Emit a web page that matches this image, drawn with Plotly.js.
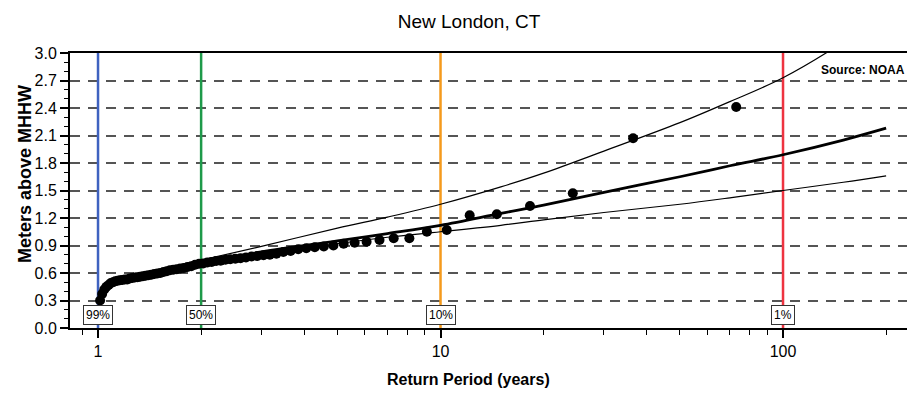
<!DOCTYPE html>
<html>
<head>
<meta charset="utf-8">
<script src="https://cdn.plot.ly/plotly-3.0.1.min.js"></script>
<style>html,body{margin:0;padding:0;background:#fff;}#chart{width:909px;height:396px;}</style>
</head>
<body>
<div id="chart"></div>
<script>
// Observed annual maxima: return period (years) and level (m above MHHW)
const obsPeriod = [73.000, 36.500, 24.333, 18.250, 14.600, 12.167, 10.429, 9.125, 8.111, 7.300,
  6.636, 6.083, 5.615, 5.214, 4.867, 4.563, 4.294, 4.056, 3.842, 3.650,
  3.476, 3.318, 3.174, 3.042, 2.920, 2.808, 2.704, 2.607, 2.517, 2.433,
  2.355, 2.281, 2.212, 2.147, 2.086, 2.028, 1.973, 1.921, 1.872, 1.825,
  1.780, 1.738, 1.698, 1.659, 1.622, 1.587, 1.553, 1.521, 1.490, 1.460,
  1.431, 1.404, 1.377, 1.352, 1.327, 1.304, 1.281, 1.259, 1.237, 1.217,
  1.197, 1.177, 1.159, 1.141, 1.123, 1.106, 1.090, 1.074, 1.058, 1.043,
  1.028, 1.014];
const obsLevel = [2.41, 2.07, 1.47, 1.33, 1.24, 1.23, 1.07, 1.05, 0.98, 0.98,
  0.96, 0.94, 0.93, 0.92, 0.90, 0.89, 0.88, 0.87, 0.86, 0.84,
  0.83, 0.81, 0.80, 0.795, 0.785, 0.78, 0.77, 0.76, 0.755, 0.75,
  0.745, 0.735, 0.73, 0.72, 0.715, 0.705, 0.70, 0.69, 0.675, 0.665,
  0.655, 0.65, 0.64, 0.635, 0.63, 0.62, 0.61, 0.60, 0.595, 0.59,
  0.58, 0.575, 0.57, 0.565, 0.56, 0.555, 0.55, 0.545, 0.54, 0.53,
  0.53, 0.525, 0.52, 0.515, 0.51, 0.50, 0.49, 0.47, 0.45, 0.42,
  0.37, 0.30];

// Fitted curve and confidence bounds
const fitPeriod = [1.5, 2, 3, 5, 7, 10, 15, 20, 30, 50, 70, 100, 150, 200];
const fitLevel  = [0.62, 0.71, 0.83, 0.95, 1.03, 1.12, 1.25, 1.34, 1.48, 1.65, 1.77, 1.89, 2.05, 2.18];
const upperLevel = [0.63, 0.74, 0.89, 1.09, 1.21, 1.35, 1.54, 1.69, 1.93, 2.24, 2.47, 2.73, 3.12, 3.45];
const lowerLevel = [0.61, 0.70, 0.80, 0.92, 0.99, 1.05, 1.12, 1.18, 1.26, 1.35, 1.42, 1.50, 1.59, 1.66];

// Reference return-period lines
const refPeriod = [1, 2, 10, 100];
const refLabel = ['99%', '50%', '10%', '1%'];
const refColor = ['#3f62c0', '#1e9a4a', '#f59a1c', '#ee3340'];

// Axis ticks
const yTickVals = [0, 0.3, 0.6, 0.9, 1.2, 1.5, 1.8, 2.1, 2.4, 2.7, 3.0];
const xTickVals = [1, 10, 100];
const xTickText = ['1', '10', '100'];
const xMinorVals = [0.9, 2, 3, 4, 5, 6, 7, 8, 9, 20, 30, 40, 50, 60, 70, 80, 90, 200];

const narrow = 'Liberation Sans Narrow, Arial Narrow, Liberation Sans, Arial, sans-serif';
const wide = 'Liberation Sans, Arial, sans-serif';

const traces = [];
refPeriod.forEach((p, i) => {
  traces.push({x: [p, p], y: [0, 3], mode: 'lines', line: {color: refColor[i], width: 2.5},
    hoverinfo: 'skip', showlegend: false});
});
traces.push({x: fitPeriod, y: upperLevel, mode: 'lines', line: {color: '#000', width: 1.2, shape: 'spline'}, showlegend: false});
traces.push({x: fitPeriod, y: lowerLevel, mode: 'lines', line: {color: '#000', width: 1.2, shape: 'spline'}, showlegend: false});
traces.push({x: fitPeriod, y: fitLevel, mode: 'lines', line: {color: '#000', width: 2.8, shape: 'spline'}, showlegend: false});
traces.push({x: obsPeriod, y: obsLevel, mode: 'markers', marker: {color: '#000', size: 10}, showlegend: false});

const annotations = refPeriod.map((p, i) => ({
  x: Math.log10(p), y: 0.142, xref: 'x', yref: 'y', text: refLabel[i], showarrow: false,
  font: {family: narrow, size: 12, color: '#000'}, bgcolor: '#fff', bordercolor: '#333',
  borderwidth: 1, borderpad: 2
}));
annotations.push({xref: 'paper', yref: 'paper', x: 0.9995, y: 0.938, xanchor: 'right', yanchor: 'middle',
  text: '<b>Source: NOAA</b>', showarrow: false, font: {family: narrow, size: 12, color: '#000'}});
annotations.push({xref: 'paper', yref: 'paper', x: -0.0538, y: 0.56, xanchor: 'center', yanchor: 'middle',
  textangle: -90, text: '<b>Meters above MHHW</b>', showarrow: false, font: {family: wide, size: 18, color: '#000'}});
annotations.push({xref: 'paper', yref: 'paper', x: 0.4767, y: -0.189, xanchor: 'center', yanchor: 'middle',
  text: '<b>Return Period (years)</b>', showarrow: false, font: {family: narrow, size: 16, color: '#000'}});

const layout = {
  width: 909, height: 396,
  margin: {l: 70, r: 2, t: 53, b: 68},
  paper_bgcolor: '#fff', plot_bgcolor: '#fff',
  title: {text: 'New London, CT', x: 0.516, xref: 'container', xanchor: 'center', y: 0.945, yref: 'container', yanchor: 'middle',
    font: {family: narrow, size: 19, color: '#000'}},
  xaxis: {type: 'log', range: [-0.0818, 2.362], showgrid: false, zeroline: false,
    showline: true, linecolor: '#000', linewidth: 2, mirror: true,
    tickmode: 'array', tickvals: xTickVals, ticktext: xTickText, ticks: 'outside', ticklen: 8, tickwidth: 2, tickcolor: '#000',
    tickfont: {family: narrow, size: 16, color: '#000'},
    minor: {tickmode: 'array', tickvals: xMinorVals, ticks: 'outside', ticklen: 5, tickwidth: 1, tickcolor: '#000', showgrid: false}},
  yaxis: {range: [0, 3], showgrid: true, gridcolor: '#555', gridwidth: 2, griddash: '10px,8px', zeroline: false,
    showline: true, linecolor: '#000', linewidth: 2,
    tickmode: 'array', tickvals: yTickVals, tickformat: '.1f', ticks: 'outside', ticklen: 8, tickwidth: 2, tickcolor: '#000',
    tickfont: {family: narrow, size: 16, color: '#000'},
    minor: {dtick: 0.1, ticks: 'outside', ticklen: 4, tickwidth: 1, tickcolor: '#000', showgrid: false}},
  annotations: annotations
};

Plotly.newPlot('chart', traces, layout, {displayModeBar: false, staticPlot: true});
</script>
</body>
</html>
